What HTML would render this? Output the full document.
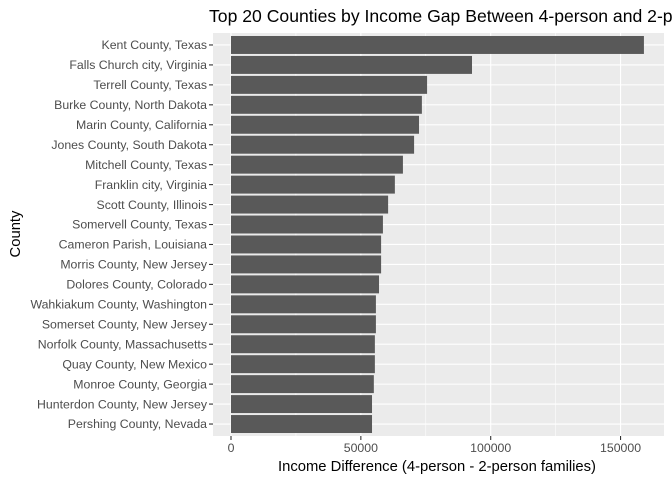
<!DOCTYPE html>
<html><head><meta charset="utf-8"><style>
html,body{margin:0;padding:0;background:#fff;}
svg{display:block;font-family:"Liberation Sans",Arial,sans-serif;}
</style></head><body>
<svg id="chart" width="672" height="480" viewBox="0 0 672 480">
<rect x="0" y="0" width="672" height="480" fill="#fff"/>
<rect x="213" y="33" width="451" height="403" fill="#ebebeb"/>
<g id="grid"></g><g id="bars"></g><g id="yticks"></g><g id="xticks"></g>
<text x="209" y="22" font-size="17.6" fill="#000">Top 20 Counties by Income Gap Between 4-person and 2-person families</text>
<text x="437" y="471" font-size="14.8" fill="#000" text-anchor="middle">Income Difference (4-person - 2-person families)</text>
<text transform="translate(20,234) rotate(-90)" font-size="14.8" fill="#000" text-anchor="middle">County</text>
</svg>
<script>
const counties = ["Kent County, Texas","Falls Church city, Virginia","Terrell County, Texas","Burke County, North Dakota","Marin County, California","Jones County, South Dakota","Mitchell County, Texas","Franklin city, Virginia","Scott County, Illinois","Somervell County, Texas","Cameron Parish, Louisiana","Morris County, New Jersey","Dolores County, Colorado","Wahkiakum County, Washington","Somerset County, New Jersey","Norfolk County, Massachusetts","Quay County, New Mexico","Monroe County, Georgia","Hunterdon County, New Jersey","Pershing County, Nevada"];
const values = [159000,92800,75500,73500,72400,70500,66200,63100,60500,58500,57800,57800,57000,55800,55800,55400,55400,55000,54300,54300];
const xTicks = [0,50000,100000,150000];
const xMinor = [25000,75000,125000];
const NS="http://www.w3.org/2000/svg";
const xMin=-6930, xMax=166730, L=213, R=664, T=33, B=436;
const x=v=>L+(v-xMin)/(xMax-xMin)*(R-L);
const step=(B-T)/(counties.length+0.2);
const y=i=>T+step*(0.6+i);
function mk(tag,attrs,parent){const e=document.createElementNS(NS,tag);for(const k in attrs)e.setAttribute(k,attrs[k]);document.getElementById(parent).appendChild(e);return e;}
xMinor.forEach(v=>{const l=mk('line',{x1:x(v),x2:x(v),y1:T,y2:B,stroke:'#fff','stroke-width':0.55},'grid');

});
xTicks.forEach(v=>{const l=mk('line',{x1:x(v),x2:x(v),y1:T,y2:B,stroke:'#fff','stroke-width':1.1},'grid');


const t=mk('line',{x1:x(v),x2:x(v),y1:B,y2:B+4,stroke:'#333','stroke-width':1.1},'xticks');


const tx=mk('text',{x:x(v),y:B+16,'font-size':12.3,fill:'#4d4d4d','text-anchor':'middle'},'xticks');tx.textContent=String(v);

});
counties.forEach((c,i)=>{const cy=y(i);
const g=mk('line',{x1:L,x2:R,y1:cy,y2:cy,stroke:'#fff','stroke-width':1.1},'grid');


const b=mk('rect',{x:x(0),y:cy-step*0.45,width:x(values[i])-x(0),height:step*0.9,fill:'#595959'},'bars');


const t=mk('line',{x1:L-4,x2:L,y1:cy,y2:cy,stroke:'#333','stroke-width':1.1},'yticks');


const tx=mk('text',{x:L-6,y:cy+4.2,'font-size':12.3,fill:'#4d4d4d','text-anchor':'end'},'yticks');tx.textContent=c;

});
</script>
</body></html>
